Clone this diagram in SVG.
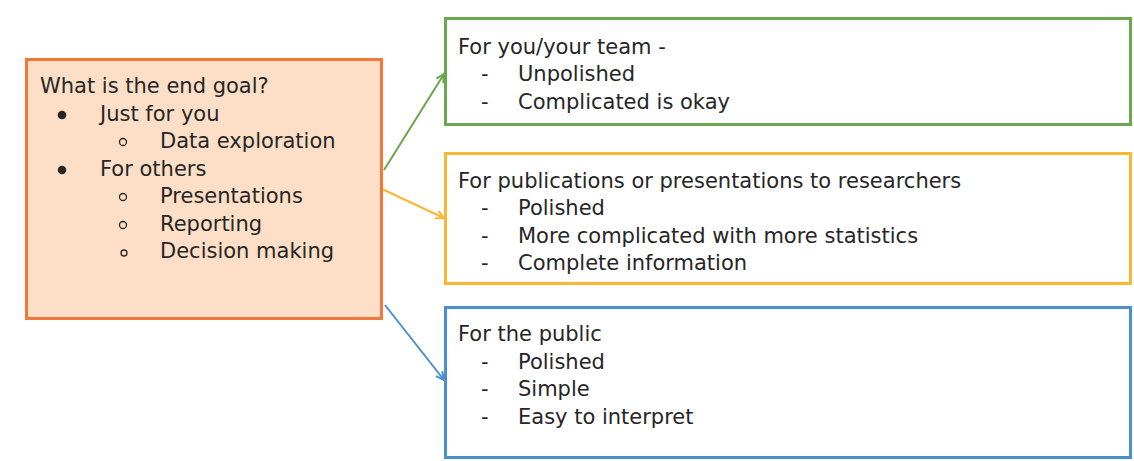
<svg xmlns="http://www.w3.org/2000/svg" width="1134" height="461" viewBox="0 0 1134 461">
<defs>
<style>
text{font-family:"DejaVu Sans","Open Sans",sans-serif;font-size:21px;fill:#262626}
.box{stroke-width:3}
.dot{fill:#262626}
.ring{fill:none;stroke:#262626;stroke-width:1.3}
.conn{fill:none;stroke-width:2}
</style>
<marker id="ag" markerWidth="10" markerHeight="10" refX="9" refY="5" orient="auto" markerUnits="userSpaceOnUse"><path d="M1,1 L9,5 L1,9" fill="none" stroke="#6AA84F" stroke-width="2"/></marker>
<marker id="ay" markerWidth="10" markerHeight="10" refX="9" refY="5" orient="auto" markerUnits="userSpaceOnUse"><path d="M1,1 L9,5 L1,9" fill="none" stroke="#FBB632" stroke-width="2"/></marker>
<marker id="ab" markerWidth="10" markerHeight="10" refX="9" refY="5" orient="auto" markerUnits="userSpaceOnUse"><path d="M1,1 L9,5 L1,9" fill="none" stroke="#4A8FCE" stroke-width="2"/></marker>
</defs>
<rect width="1134" height="461" fill="#fff"/>
<g id="connectors">
<line class="conn" x1="384" y1="170" x2="444" y2="74" stroke="#6AA84F" marker-end="url(#ag)"/>
<line class="conn" x1="382" y1="189" x2="444" y2="218" stroke="#FBB632" marker-end="url(#ay)"/>
<line class="conn" x1="385" y1="305" x2="444" y2="380" stroke="#4A8FCE" marker-end="url(#ab)"/>
</g>
<g id="goal">
<rect class="box" x="26.5" y="59.5" width="355" height="259" fill="#FDDFC7" stroke="#F4773A"/>
<text x="40" y="93">What is the end goal?</text>
<circle class="dot" cx="62" cy="115" r="4.3"/>
<text x="100" y="121">Just for you</text>
<circle class="ring" cx="123" cy="142" r="3.5"/>
<text x="160" y="148">Data exploration</text>
<circle class="dot" cx="62" cy="170" r="4.3"/>
<text x="100" y="176">For others</text>
<circle class="ring" cx="123" cy="197" r="3.5"/>
<text x="160" y="203">Presentations</text>
<circle class="ring" cx="123" cy="225" r="3.5"/>
<text x="160" y="231">Reporting</text>
<circle class="ring" cx="124" cy="253" r="3"/>
<text x="160" y="258">Decision making</text>
</g>
<g id="team">
<rect class="box" x="445.5" y="18.5" width="685" height="106" fill="#fff" stroke="#6AA84F"/>
<text x="458" y="54">For you/your team -</text>
<text x="481" y="81">-</text><text x="518" y="81">Unpolished</text>
<text x="481" y="109">-</text><text x="518" y="109">Complicated is okay</text>
</g>
<g id="researchers">
<rect class="box" x="445.5" y="153.5" width="685" height="130" fill="#fff" stroke="#FBB632"/>
<text x="458" y="188">For publications or presentations to researchers</text>
<text x="481" y="215">-</text><text x="518" y="215">Polished</text>
<text x="481" y="243">-</text><text x="518" y="243">More complicated with more statistics</text>
<text x="481" y="270">-</text><text x="518" y="270">Complete information</text>
</g>
<g id="public">
<rect class="box" x="445.5" y="307.5" width="685" height="150" fill="#fff" stroke="#4A8FCE"/>
<text x="458" y="341">For the public</text>
<text x="481" y="369">-</text><text x="518" y="369">Polished</text>
<text x="481" y="396">-</text><text x="518" y="396">Simple</text>
<text x="481" y="424">-</text><text x="518" y="424">Easy to interpret</text>
</g>
</svg>
